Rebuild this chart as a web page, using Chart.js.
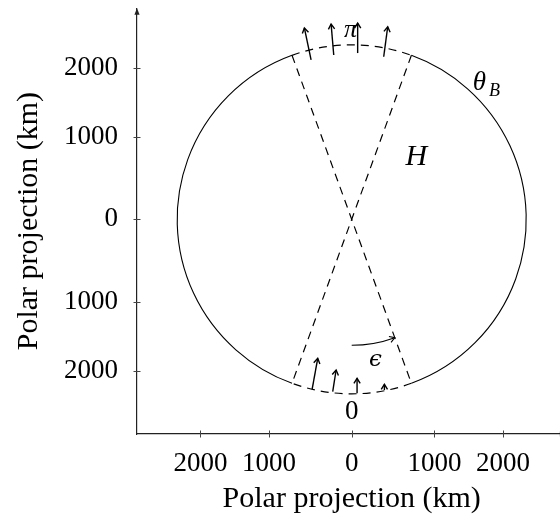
<!DOCTYPE html>
<html>
<head>
<meta charset="utf-8">
<script src="https://cdn.jsdelivr.net/npm/chart.js@4.4.1/dist/chart.umd.min.js"></script>
<style>
  html, body { margin: 0; padding: 0; overflow: hidden; background: #fff; }
  #wrap { width: 576px; height: 525px; }
</style>
</head>
<body>
<div id="wrap"><canvas id="polarChart" width="576" height="525"></canvas></div>
<script>
// Surface distances (km) where the axes get a tick
const tickKm = [-2000, -1000, 0, 1000, 2000];
const projRadius = 2400;          // km, sphere radius of the projection
const xLimits = [-2522, 2522];    // projected units
const yLimits = [-2522, 2480];

// Boundary circle and the double cone through the pole
const circleRadius = 2050;
const coneHalfAngle = 20;         // degrees from the vertical
const epsilonRadius = 1480;

// Vectors on the upper (pi) cap
const upperBaseX = [-477, -211, 70, 376];
const upperBaseY = [1873, 1930, 1953, 1910];
const upperTipX = [-556, -242, 70, 423];
const upperTipY = [2248, 2294, 2306, 2262];

// Vectors on the lower (0) cap
const lowerBaseX = [-465, -223, 63, 384];
const lowerBaseY = [-1997, -2025, -2044, -2005];
const lowerTipX = [-399, -183, 63, 384];
const lowerTipY = [-1633, -1770, -1868, -1938];

// Annotations
const labelText = ['π', '0', 'θ', 'B', 'H', 'ϵ'];
const labelX = [-15, 2, 1500, 1676, 760, 278];
const labelY = [2224, -2262, 1601, 1507, 732, -1653];

const ink = '#000';
const axisColor = '#222';
const serif = '"Liberation Serif", "DejaVu Serif", serif';
const labelFonts = [
  'italic 26px ' + serif,
  '27px ' + serif,
  'italic 27px ' + serif,
  'italic 18px ' + serif,
  'italic 30px ' + serif,
  'italic 23px "DejaVu Serif", serif'
];

function project(km) {
  return Math.sign(km) * projRadius * Math.sin(Math.abs(km) / projRadius);
}

function coneLine(side) {
  const a = coneHalfAngle * Math.PI / 180;
  const dx = circleRadius * Math.sin(a) * side;
  const dy = circleRadius * Math.cos(a);
  return {
    data: [{ x: -dx, y: dy }, { x: dx, y: -dy }],
    showLine: true,
    borderColor: ink,
    borderWidth: 1.2,
    borderDash: [8, 6],
    pointRadius: 0
  };
}

function arrowHead(ctx, x1, y1, x2, y2, len, spread) {
  const ang = Math.atan2(y2 - y1, x2 - x1);
  ctx.beginPath();
  ctx.moveTo(x2 - len * Math.cos(ang - spread), y2 - len * Math.sin(ang - spread));
  ctx.lineTo(x2, y2);
  ctx.lineTo(x2 - len * Math.cos(ang + spread), y2 - len * Math.sin(ang + spread));
  ctx.stroke();
}

const sketchPlugin = {
  id: 'sketch',
  afterDatasetsDraw(chart) {
    const ctx = chart.ctx;
    const xs = chart.scales.x, ys = chart.scales.y;
    const cx = xs.getPixelForValue(0), cy = ys.getPixelForValue(0);
    const r = xs.getPixelForValue(circleRadius) - cx;
    const a = coneHalfAngle * Math.PI / 180;
    const up = -Math.PI / 2, down = Math.PI / 2;

    ctx.save();
    ctx.strokeStyle = ink;
    ctx.lineWidth = 1.1;
    // solid sides of the circle
    ctx.beginPath(); ctx.arc(cx, cy, r, up + a, down - a); ctx.stroke();
    ctx.beginPath(); ctx.arc(cx, cy, r, down + a, up + 2 * Math.PI - a); ctx.stroke();
    // dashed caps inside the cone
    ctx.setLineDash([8, 6]);
    ctx.lineWidth = 1.2;
    ctx.beginPath(); ctx.arc(cx, cy, r, up - a, up + a); ctx.stroke();
    ctx.beginPath(); ctx.arc(cx, cy, r, down - a, down + a); ctx.stroke();
    ctx.setLineDash([]);

    // vectors on both caps
    ctx.lineWidth = 1.4;
    const drawVec = (bx, by, tx, ty) => {
      const x1 = xs.getPixelForValue(bx), y1 = ys.getPixelForValue(by);
      const x2 = xs.getPixelForValue(tx), y2 = ys.getPixelForValue(ty);
      ctx.beginPath(); ctx.moveTo(x1, y1); ctx.lineTo(x2, y2); ctx.stroke();
      arrowHead(ctx, x1, y1, x2, y2, 6, 0.55);
    };
    upperBaseX.forEach((_, i) => drawVec(upperBaseX[i], upperBaseY[i], upperTipX[i], upperTipY[i]));
    lowerBaseX.forEach((_, i) => drawVec(lowerBaseX[i], lowerBaseY[i], lowerTipX[i], lowerTipY[i]));

    // opening angle of the cone
    const re = xs.getPixelForValue(epsilonRadius) - cx;
    const endA = down - a;
    ctx.lineWidth = 1.1;
    ctx.beginPath(); ctx.arc(cx, cy, re, down, endA, true); ctx.stroke();
    const ex = cx + re * Math.cos(endA), ey = cy + re * Math.sin(endA);
    arrowHead(ctx, ex - Math.sin(endA), ey + Math.cos(endA), ex, ey, 6, 0.55);

    // labels
    ctx.fillStyle = ink;
    ctx.textAlign = 'center';
    ctx.textBaseline = 'middle';
    labelText.forEach((t, i) => {
      ctx.font = labelFonts[i];
      ctx.fillText(t, xs.getPixelForValue(labelX[i]), ys.getPixelForValue(labelY[i]));
    });
    ctx.restore();
  },
  afterDraw(chart) {
    const ctx = chart.ctx;
    const xs = chart.scales.x, ys = chart.scales.y;
    const { left, right, top, bottom } = chart.chartArea;
    ctx.save();
    ctx.strokeStyle = '#444';
    ctx.lineWidth = 1;
    xs.ticks.forEach(t => {
      const p = Math.round(xs.getPixelForValue(t.value)) + 0.5;
      ctx.beginPath(); ctx.moveTo(p, bottom - 3.5); ctx.lineTo(p, bottom + 3.5); ctx.stroke();
    });
    ys.ticks.forEach(t => {
      const p = Math.round(ys.getPixelForValue(t.value)) + 0.5;
      ctx.beginPath(); ctx.moveTo(left - 3.5, p); ctx.lineTo(left + 3.5, p); ctx.stroke();
    });
    // axis arrow tips
    ctx.fillStyle = axisColor;
    ctx.beginPath();
    ctx.moveTo(left, top); ctx.lineTo(left - 2.6, top + 6.5); ctx.lineTo(left + 2.6, top + 6.5);
    ctx.closePath(); ctx.fill();
    ctx.beginPath();
    ctx.moveTo(right, bottom); ctx.lineTo(right - 6.5, bottom - 2.6); ctx.lineTo(right - 6.5, bottom + 2.6);
    ctx.closePath(); ctx.fill();
    ctx.restore();
  }
};

const tickFont = { family: serif, size: 27 };
const titleFont = { family: serif, size: 30 };

function axis(limits, extra) {
  return Object.assign({
    type: 'linear',
    min: limits[0],
    max: limits[1],
    afterBuildTicks: s => { s.ticks = tickKm.map(km => ({ value: project(km) })); },
    grid: { display: false },
    border: { display: true, color: axisColor, width: 1.2 }
  }, extra);
}

const polarChart = new Chart(document.getElementById('polarChart'), {
  type: 'scatter',
  data: { datasets: [coneLine(1), coneLine(-1)] },
  options: {
    responsive: false,
    animation: false,
    devicePixelRatio: 1,
    layout: { padding: { top: 8.2, right: 9.6, bottom: 0, left: 0 } },
    plugins: { legend: { display: false }, tooltip: { enabled: false } },
    scales: {
      x: axis(xLimits, {
        afterFit: s => { s.height = 91; s.paddingLeft = 0; s.paddingRight = 0; },
        ticks: {
          color: ink, font: tickFont, autoSkip: false, maxRotation: 0, padding: 6,
          callback: (v, i) => String(Math.abs(tickKm[i]))
        },
        title: { display: true, text: 'Polar projection (km)', color: ink, font: titleFont, padding: { top: 0, bottom: 8 } }
      }),
      y: axis(yLimits, {
        afterFit: s => { s.width = 137; s.paddingTop = 0; s.paddingBottom = 0; },
        ticks: {
          color: ink, font: tickFont, autoSkip: false, padding: 11,
          callback: (v, i) => String(Math.abs(tickKm[i]))
        },
        title: { display: true, text: 'Polar projection (km)', color: ink, font: titleFont, padding: { top: 11, bottom: 0 } }
      })
    }
  },
  plugins: [sketchPlugin]
});
</script>
</body>
</html>
